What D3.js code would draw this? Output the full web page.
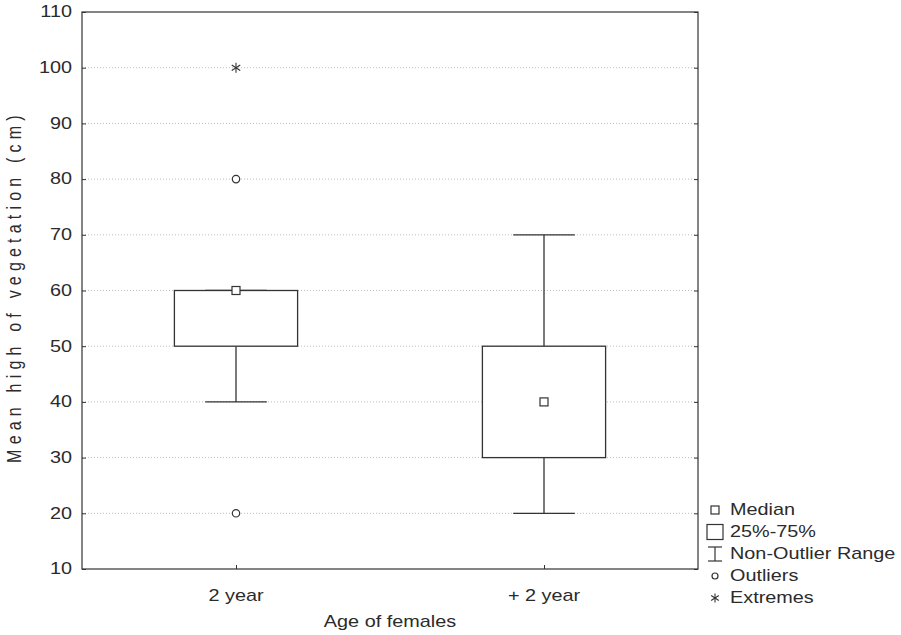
<!DOCTYPE html>
<html>
<head>
<meta charset="utf-8">
<script src="https://cdn.jsdelivr.net/npm/d3@7"></script>
<style>
  html, body { margin: 0; padding: 0; background: #fff; }
  svg text { font-family: "Liberation Sans", Arial, sans-serif; fill: #2b2b2b; }
</style>
</head>
<body>
<svg id="chart" width="901" height="635"></svg>
<script>
// Box plot: mean vegetation height by age of females
const categories   = ["2 year", "+ 2 year"];
const medians      = [60, 40];
const q1Values     = [50, 30];
const q3Values     = [60, 50];
const whiskerLow   = [40, 20];
const whiskerHigh  = [60, 70];
const outlierVals  = [[80, 20], []];
const extremeVals  = [[100], []];
const yTicks       = [10, 20, 30, 40, 50, 60, 70, 80, 90, 100, 110];
const legendItems  = ["Median", "25%-75%", "Non-Outlier Range", "Outliers", "Extremes"];

const svg = d3.select("#chart");
const plot = { left: 82, right: 698, top: 12, bottom: 569 };
const ink = "#333";
const stretch = 1.24; // horizontal glyph widening

const x = d3.scalePoint().domain(categories).range([plot.left, plot.right]).padding(0.5);
const y = d3.scaleLinear().domain([10, 110]).range([plot.bottom, plot.top]);
const plotW = plot.right - plot.left;
const boxW = plotW * 0.2;
const capW = boxW / 2;

// widened horizontal text helper
function label(g, tx, ty, str, anchor, size) {
  g.append("g")
    .attr("transform", `translate(${tx},${ty}) scale(${stretch},1)`)
    .append("text")
    .attr("text-anchor", anchor)
    .attr("dominant-baseline", "central")
    .style("font-size", size + "px")
    .text(str);
}

// gridlines
svg.append("g").selectAll("line")
  .data(yTicks.filter(t => t > 10 && t < 110))
  .join("line")
  .attr("x1", plot.left).attr("x2", plot.right)
  .attr("y1", d => y(d)).attr("y2", d => y(d))
  .attr("stroke", "#bdbdbd").attr("stroke-width", 1)
  .attr("stroke-dasharray", "1,2");

// y axis (left) with inward ticks
const yAxisL = d3.axisRight(y).tickValues(yTicks).tickSize(4).tickFormat("");
svg.append("g").attr("transform", `translate(${plot.left},0)`).call(yAxisL)
  .call(g => g.select(".domain").remove())
  .call(g => g.selectAll("line").attr("stroke", ink));
// y axis (right) with inward ticks
const yAxisR = d3.axisLeft(y).tickValues(yTicks).tickSize(4).tickFormat("");
svg.append("g").attr("transform", `translate(${plot.right},0)`).call(yAxisR)
  .call(g => g.select(".domain").remove())
  .call(g => g.selectAll("line").attr("stroke", ink));
// x axis ticks pointing up
const xAxis = d3.axisTop(x).tickSize(4).tickFormat("");
svg.append("g").attr("transform", `translate(0,${plot.bottom})`).call(xAxis)
  .call(g => g.select(".domain").remove())
  .call(g => g.selectAll("line").attr("stroke", ink));

// frame
svg.append("rect")
  .attr("x", plot.left).attr("y", plot.top)
  .attr("width", plotW).attr("height", plot.bottom - plot.top)
  .attr("fill", "none").attr("stroke", ink).attr("stroke-width", 1.2);

// y tick labels
const yLab = svg.append("g");
yTicks.forEach(t => label(yLab, 72, y(t), String(t), "end", 16));

// x tick labels
const xLab = svg.append("g");
categories.forEach(c => label(xLab, x(c), 596, c, "middle", 16));

// axis titles
label(svg, (plot.left + plot.right) / 2, 622, "Age of females", "middle", 16);
svg.append("g")
  .attr("transform", `translate(14,${(plot.top + plot.bottom) / 2 - 4}) rotate(-90) scale(1,${stretch})`)
  .append("text")
  .attr("text-anchor", "middle")
  .attr("dominant-baseline", "central")
  .style("font-size", "16px")
  .style("letter-spacing", "5.2px")
  .text("Mean high of vegetation (cm)");

// boxes
const boxes = svg.append("g");
categories.forEach((c, i) => {
  const cx = x(c);
  const g = boxes.append("g");
  // whiskers
  g.append("line").attr("x1", cx).attr("x2", cx)
    .attr("y1", y(q1Values[i])).attr("y2", y(whiskerLow[i]))
    .attr("stroke", ink).attr("stroke-width", 1.3);
  g.append("line").attr("x1", cx).attr("x2", cx)
    .attr("y1", y(q3Values[i])).attr("y2", y(whiskerHigh[i]))
    .attr("stroke", ink).attr("stroke-width", 1.3);
  [whiskerLow[i], whiskerHigh[i]].forEach(v => {
    g.append("line").attr("x1", cx - capW / 2).attr("x2", cx + capW / 2)
      .attr("y1", y(v)).attr("y2", y(v))
      .attr("stroke", ink).attr("stroke-width", 1.3);
  });
  // box
  g.append("rect")
    .attr("x", cx - boxW / 2).attr("y", y(q3Values[i]))
    .attr("width", boxW).attr("height", y(q1Values[i]) - y(q3Values[i]))
    .attr("fill", "#fff").attr("stroke", ink).attr("stroke-width", 1.3);
  // median
  g.append("rect")
    .attr("x", cx - 4).attr("y", y(medians[i]) - 4)
    .attr("width", 8).attr("height", 8)
    .attr("fill", "#fff").attr("stroke", ink).attr("stroke-width", 1.2);
  // outliers
  outlierVals[i].forEach(v => {
    g.append("circle").attr("cx", cx).attr("cy", y(v)).attr("r", 3.7)
      .attr("fill", "#fff").attr("stroke", ink).attr("stroke-width", 1.2);
  });
  // extremes
  extremeVals[i].forEach(v => drawStar(g, cx, y(v), 5));
});

// six-armed asterisk
function drawStar(g, cx, cy, r) {
  const s = g.append("g").attr("stroke", ink).attr("stroke-width", 1.1);
  s.append("line").attr("x1", cx).attr("x2", cx).attr("y1", cy - r).attr("y2", cy + r);
  const dx = r * 0.85, dy = r * 0.55;
  s.append("line").attr("x1", cx - dx).attr("x2", cx + dx).attr("y1", cy - dy).attr("y2", cy + dy);
  s.append("line").attr("x1", cx - dx).attr("x2", cx + dx).attr("y1", cy + dy).attr("y2", cy - dy);
}

// legend
const lg = svg.append("g");
const lx = 715, ly0 = 510, lstep = 22;
legendItems.forEach((t, i) => label(lg, 730, ly0 + i * lstep, t, "start", 16));
// median symbol
lg.append("rect").attr("x", lx - 4).attr("y", ly0 - 4).attr("width", 8).attr("height", 8)
  .attr("fill", "#fff").attr("stroke", ink).attr("stroke-width", 1.2);
// box symbol
lg.append("rect").attr("x", lx - 8).attr("y", ly0 + lstep - 7.5).attr("width", 16).attr("height", 15)
  .attr("fill", "#fff").attr("stroke", ink).attr("stroke-width", 1.2);
// range symbol
const ry = ly0 + 2 * lstep;
lg.append("line").attr("x1", lx).attr("x2", lx).attr("y1", ry - 7).attr("y2", ry + 7).attr("stroke", ink).attr("stroke-width", 1.2);
lg.append("line").attr("x1", lx - 7).attr("x2", lx + 7).attr("y1", ry - 7).attr("y2", ry - 7).attr("stroke", ink).attr("stroke-width", 1.2);
lg.append("line").attr("x1", lx - 7).attr("x2", lx + 7).attr("y1", ry + 7).attr("y2", ry + 7).attr("stroke", ink).attr("stroke-width", 1.2);
// outlier symbol
lg.append("circle").attr("cx", lx).attr("cy", ly0 + 3 * lstep).attr("r", 3)
  .attr("fill", "#fff").attr("stroke", ink).attr("stroke-width", 1.2);
// extreme symbol
drawStar(lg, lx, ly0 + 4 * lstep, 4.5);
</script>
</body>
</html>
